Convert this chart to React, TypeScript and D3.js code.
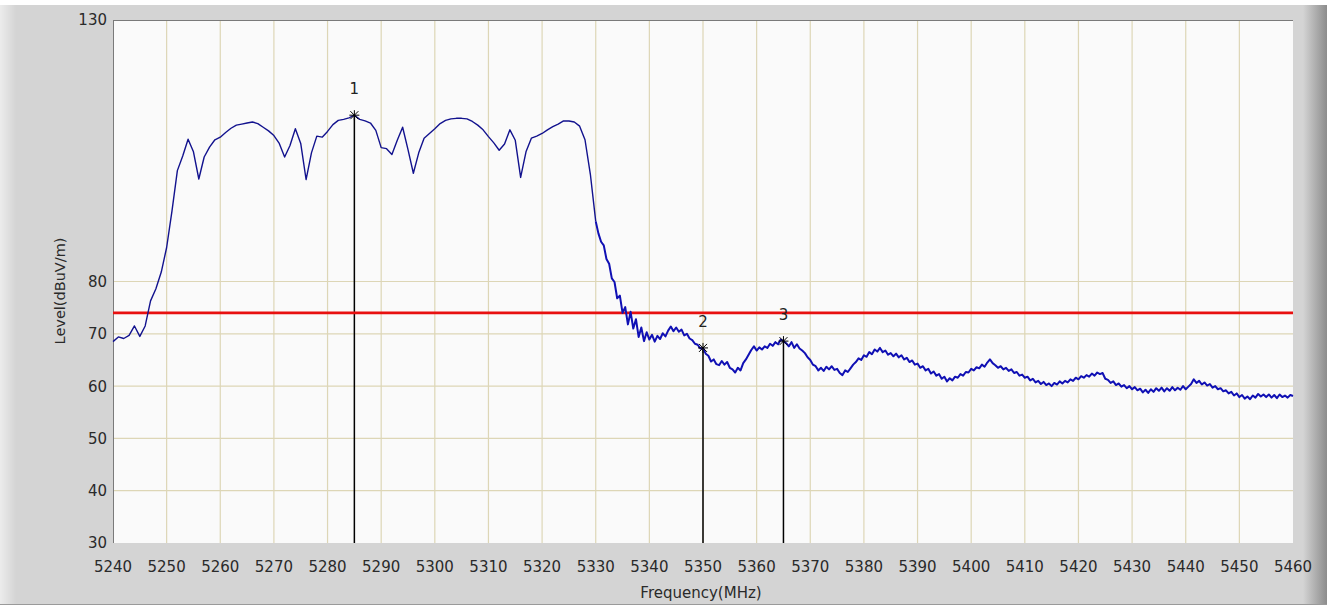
import React from "react";
import * as d3 from "d3";

const WIDTH = 1337;
const HEIGHT = 608;

// plot box
const LEFT = 113;
const RIGHT = 1293;
const TOP = 20;
const BOTTOM = 543;

// level every 1 MHz, 5240 .. 5330 MHz
const bandLevels: number[] = [
  68.5, 69.4, 69.1, 69.7, 71.5, 69.5, 71.5, 76.3, 78.6, 81.8,
  86.5, 93.5, 101.2, 104.0, 107.2, 104.8, 99.6, 103.8, 105.7, 107.1,
  107.6, 108.5, 109.3, 109.9, 110.1, 110.3, 110.5, 110.2, 109.5, 108.8,
  107.9, 106.4, 103.8, 106.0, 109.2, 106.4, 99.5, 104.6, 107.8, 107.6,
  108.7, 110.0, 110.8, 111.0, 111.3, 111.8, 111.0, 110.7, 110.3, 108.9,
  105.6, 105.4, 104.3, 107.0, 109.5, 105.2, 100.7, 104.6, 107.4, 108.3,
  109.2, 110.2, 110.8, 111.1, 111.2, 111.2, 111.1, 110.6, 109.9, 109.0,
  107.7, 106.5, 105.1, 106.3, 109.0, 107.0, 99.9, 104.8, 107.4, 107.8,
  108.3, 109.0, 109.6, 110.1, 110.7, 110.7, 110.5, 109.7, 107.1, 100.5,
  91.5,
];

// level every 0.5 MHz, 5330.5 .. 5460 MHz
const skirtLevels: number[] = [
  89.2, 87.6, 86.9, 84.3, 83.4, 80.6, 79.9, 76.8, 77.3, 74.0,
  75.1, 71.8, 74.2, 71.0, 72.8, 69.4, 71.2, 68.6, 70.3, 68.9,
  69.8, 68.5, 69.6, 69.0, 70.1, 69.5, 70.6, 71.4, 70.5, 71.2,
  70.4, 70.8, 69.7, 70.0, 69.1, 68.8, 68.1, 67.9, 67.2, 67.3,
  66.2, 65.8, 64.7, 65.1, 64.2, 64.0, 64.8, 64.1, 64.6, 63.5,
  63.2, 62.6, 63.5, 63.0, 64.4, 65.1, 66.0, 66.9, 67.6, 66.8,
  67.4, 67.0, 67.6, 67.3, 68.1, 67.7, 68.4, 68.0, 68.9, 68.6,
  68.2, 67.6, 68.4, 67.3, 68.0, 67.2, 66.8, 66.3, 65.5, 65.0,
  64.1, 63.8, 63.0, 63.5, 62.9, 63.7, 63.2, 63.8, 63.1, 63.3,
  62.5, 62.1, 63.0, 62.7, 63.4, 64.1, 64.6, 65.3, 65.0, 65.9,
  65.6, 66.5, 66.1, 67.0, 66.6, 67.3, 66.5, 66.8, 66.0, 66.3,
  65.7, 66.2, 65.5, 65.9, 65.1, 65.4, 64.6, 64.9, 64.1, 64.3,
  63.5, 63.8, 63.0, 63.3, 62.4, 62.8, 62.0, 62.3, 61.4, 61.8,
  60.9, 61.5, 61.1, 61.8, 61.6, 62.3, 62.0, 62.7, 62.6, 63.3,
  63.0, 63.6, 63.4, 64.1, 63.7, 64.5, 65.1, 64.4, 64.0, 63.5,
  63.8, 63.2, 63.5, 62.9, 63.2, 62.5, 62.7, 62.0, 62.2, 61.6,
  61.8, 61.1, 61.4, 60.7, 61.0, 60.4, 60.8, 60.2, 60.5, 60.0,
  60.6, 60.3, 60.9, 60.5, 61.0, 60.7, 61.3, 61.0, 61.6, 61.3,
  61.9, 61.6, 62.1, 61.8, 62.4, 62.0, 62.6, 62.3, 62.5, 61.4,
  61.2, 60.6, 60.9, 60.2, 60.5, 59.9, 60.2, 59.6, 60.0, 59.4,
  59.8, 59.2, 59.5, 58.8, 59.3, 58.7, 59.4, 58.9, 59.6, 59.1,
  59.7, 59.0, 59.6, 59.1, 59.8, 59.2, 59.7, 59.3, 60.0, 59.4,
  59.9, 60.4, 61.3, 60.6, 61.0, 60.3, 60.7, 60.1, 60.4, 59.7,
  60.0, 59.4, 59.6, 59.0, 59.2, 58.6, 58.9, 58.2, 58.6, 57.9,
  58.3, 57.6, 58.0, 57.5, 58.2, 57.8, 58.5, 58.0, 58.4, 57.9,
  58.4, 57.8, 58.3, 57.7, 58.4, 57.9, 58.2, 57.8, 58.3, 58.1,
];

const xTicks = [
  5240, 5250, 5260, 5270, 5280, 5290, 5300, 5310, 5320, 5330, 5340, 5350,
  5360, 5370, 5380, 5390, 5400, 5410, 5420, 5430, 5440, 5450, 5460,
];
const yTicks = [30, 40, 50, 60, 70, 80, 130];
const yGrid = [40, 50, 60, 70, 80];

const limitLevel = 74;

const markerLabels = ["1", "2", "3"];
const markerFreqs = [5285, 5350, 5365];
const markerLevels = [111.8, 67.3, 68.6];

const FONT = "'DejaVu Sans', sans-serif";

const App: React.FC = () => {
  const x = d3.scaleLinear().domain([5240, 5460]).range([LEFT, RIGHT]);
  const y = d3.scaleLinear().domain([30, 130]).range([BOTTOM, TOP]);

  const band: [number, number][] = bandLevels.map(
    (v, i) => [5240 + i, v] as [number, number]
  );
  // skirt path starts from the last band point so the two join up
  const skirt: [number, number][] = [
    band[band.length - 1],
    ...skirtLevels.map((v, i) => [5330.5 + i * 0.5, v] as [number, number]),
  ];

  const line = d3
    .line<[number, number]>()
    .x((d) => x(d[0]))
    .y((d) => y(d[1]));

  return (
    <svg
      width={WIDTH}
      height={HEIGHT}
      style={{ position: "absolute", left: 0, top: 0, display: "block" }}
    >
      <defs>
        <linearGradient id="rightEdge" x1="0" x2="1" y1="0" y2="0">
          <stop offset="0" stopColor="#d4d4d4" />
          <stop offset="1" stopColor="#8c8c8c" />
        </linearGradient>
        <linearGradient id="leftEdge" x1="0" x2="1" y1="0" y2="0">
          <stop offset="0" stopColor="#ececec" />
          <stop offset="1" stopColor="#d4d4d4" />
        </linearGradient>
      </defs>

      {/* frame */}
      <rect x={0} y={0} width={WIDTH} height={HEIGHT} fill="#ffffff" />
      <rect x={0} y={5} width={1327} height={600} fill="#d4d4d4" />
      <rect x={0} y={5} width={16} height={600} fill="url(#leftEdge)" />
      <rect x={1303} y={5} width={24} height={600} fill="url(#rightEdge)" />
      <line x1={0} x2={1327} y1={604.5} y2={604.5} stroke="#9a9a9a" />

      {/* plot background */}
      <rect x={LEFT} y={TOP} width={RIGHT - LEFT} height={BOTTOM - TOP} fill="#fafafa" />

      {/* grid */}
      {xTicks.slice(1, -1).map((t) => (
        <line
          key={"gx" + t}
          x1={x(t)}
          x2={x(t)}
          y1={TOP}
          y2={BOTTOM}
          stroke="#ddd6b6"
          strokeWidth={1.2}
        />
      ))}
      {yGrid.map((t) => (
        <line
          key={"gy" + t}
          x1={LEFT}
          x2={RIGHT}
          y1={y(t)}
          y2={y(t)}
          stroke="#ddd6b6"
          strokeWidth={1.2}
        />
      ))}

      {/* plot border top / left */}
      <line x1={LEFT} x2={RIGHT} y1={TOP + 0.5} y2={TOP + 0.5} stroke="#7a7a7a" />
      <line x1={LEFT + 0.5} x2={LEFT + 0.5} y1={TOP} y2={BOTTOM} stroke="#7a7a7a" />

      {/* marker drop lines */}
      {markerFreqs.map((f, i) => (
        <line
          key={"ml" + i}
          x1={x(f)}
          x2={x(f)}
          y1={y(markerLevels[i])}
          y2={BOTTOM}
          stroke="#000000"
          strokeWidth={1.5}
        />
      ))}

      {/* limit line */}
      <line
        x1={LEFT}
        x2={RIGHT}
        y1={y(limitLevel)}
        y2={y(limitLevel)}
        stroke="#e81010"
        strokeWidth={2.6}
      />

      {/* trace */}
      <path
        d={line(band) || ""}
        fill="none"
        stroke="#12128e"
        strokeWidth={1.4}
        strokeLinejoin="round"
      />
      <path
        d={line(skirt) || ""}
        fill="none"
        stroke="#1010b4"
        strokeWidth={2}
        strokeLinejoin="round"
      />

      {/* marker stars and labels */}
      {markerFreqs.map((f, i) => {
        const cx = x(f);
        const cy = y(markerLevels[i]);
        return (
          <g key={"mk" + i} stroke="#000000" strokeWidth={1}>
            <line x1={cx - 5} x2={cx + 5} y1={cy} y2={cy} />
            <line x1={cx} x2={cx} y1={cy - 5} y2={cy + 5} />
            <line x1={cx - 4} x2={cx + 4} y1={cy - 4} y2={cy + 4} />
            <line x1={cx - 4} x2={cx + 4} y1={cy + 4} y2={cy - 4} />
            <text
              x={cx}
              y={cy - 21}
              textAnchor="middle"
              fontFamily={FONT}
              fontSize={15}
              fill="#222222"
              stroke="none"
            >
              {markerLabels[i]}
            </text>
          </g>
        );
      })}

      {/* y tick labels */}
      {yTicks.map((t) => (
        <text
          key={"yt" + t}
          x={LEFT - 6}
          y={y(t)}
          dy="0.36em"
          textAnchor="end"
          fontFamily={FONT}
          fontSize={15}
          fill="#2a2a2a"
        >
          {t}
        </text>
      ))}

      {/* x tick labels */}
      {xTicks.map((t) => (
        <text
          key={"xt" + t}
          x={x(t)}
          y={567}
          dy="0.36em"
          textAnchor="middle"
          fontFamily={FONT}
          fontSize={15}
          fill="#2a2a2a"
        >
          {t}
        </text>
      ))}

      {/* axis titles */}
      <text
        transform={`translate(60,291) rotate(-90)`}
        textAnchor="middle"
        dy="0.36em"
        fontFamily={FONT}
        fontSize={14.5}
        fill="#2a2a2a"
      >
        Level(dBuV/m)
      </text>
      <text
        x={701}
        y={593}
        dy="0.36em"
        textAnchor="middle"
        fontFamily={FONT}
        fontSize={15}
        fill="#2a2a2a"
      >
        Frequency(MHz)
      </text>
    </svg>
  );
};

export default App;
